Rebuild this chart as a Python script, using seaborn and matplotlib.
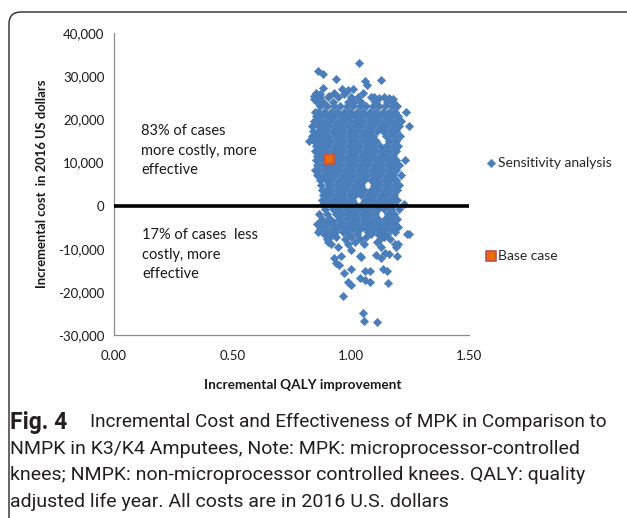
import numpy as np
import pandas as pd
import matplotlib
matplotlib.use("Agg")
import matplotlib.pyplot as plt
from matplotlib.patches import FancyBboxPatch
from matplotlib.ticker import FuncFormatter
import seaborn as sns

# Probabilistic sensitivity analysis cloud
# (incremental cost level -> incremental QALY values along that row)
core_cost = [25100, 24100, 23000, 21800, 20700, 19500, 18400, 17300, 16100, 15000,
             13900, 12700, 11600, 10500, 9300, 8200, 7100, 5900, 4800, 3700,
             2500, 1400, 300, -900, -2000, -3100, -3700, -4300, -4900, -5500,
             -6100, -6700, -7200, -7800, -8400, -9000, -9700]
core_qaly = [
    [0.870, 0.905, 0.945, 1.000, 1.030, 1.085, 1.140],
    [0.858, 0.884, 0.925, 0.990, 1.012, 1.045, 1.104, 1.152, 1.178],
    [0.871, 0.899, 0.928, 0.957, 0.983, 1.011, 1.038, 1.066, 1.093, 1.119, 1.147, 1.173, 1.196],
    [0.848, 0.862, 0.889, 0.915, 0.944, 0.970, 0.998, 1.025, 1.053, 1.080, 1.108, 1.135, 1.161, 1.188, 1.232],
    [0.853, 0.876, 0.904, 0.931, 0.958, 0.985, 1.012, 1.040, 1.067, 1.094, 1.121, 1.149, 1.176, 1.201],
    [0.845, 0.866, 0.892, 0.918, 0.946, 0.972, 0.999, 1.027, 1.054, 1.082, 1.109, 1.137, 1.163, 1.190, 1.212],
    [0.838, 0.860, 0.880, 0.906, 0.933, 0.960, 0.987, 1.014, 1.041, 1.068, 1.096, 1.123, 1.150, 1.177, 1.203, 1.246],
    [0.842, 0.866, 0.893, 0.920, 0.947, 0.973, 1.000, 1.028, 1.055, 1.083, 1.110, 1.137, 1.165, 1.192],
    [0.836, 0.855, 0.879, 0.906, 0.933, 0.960, 0.987, 1.014, 1.042, 1.069, 1.096, 1.150, 1.178, 1.207],
    [0.826, 0.846, 0.866, 0.893, 0.919, 0.946, 0.973, 1.001, 1.028, 1.055, 1.082, 1.109, 1.164, 1.191],
    [0.852, 0.880, 0.906, 0.933, 0.960, 0.987, 1.014, 1.041, 1.069, 1.096, 1.123, 1.150, 1.178, 1.200],
    [0.851, 0.868, 0.893, 0.920, 0.946, 0.973, 1.000, 1.027, 1.055, 1.082, 1.109, 1.137, 1.164, 1.190],
    [0.857, 0.880, 0.906, 0.933, 0.960, 0.988, 1.015, 1.042, 1.069, 1.096, 1.124, 1.151, 1.178],
    [0.852, 0.868, 0.894, 0.921, 0.947, 0.974, 1.001, 1.028, 1.056, 1.083, 1.110, 1.138, 1.165, 1.191, 1.228],
    [0.858, 0.881, 0.907, 0.934, 0.961, 0.988, 1.015, 1.042, 1.070, 1.097, 1.124, 1.152, 1.179, 1.204],
    [0.850, 0.868, 0.894, 0.921, 0.948, 0.975, 1.002, 1.029, 1.056, 1.084, 1.111, 1.138, 1.166, 1.193],
    [0.856, 0.882, 0.908, 0.935, 0.962, 0.989, 1.016, 1.043, 1.070, 1.098, 1.125, 1.152, 1.180, 1.214],
    [0.869, 0.895, 0.922, 0.949, 0.976, 1.003, 1.030, 1.057, 1.085, 1.112, 1.139, 1.167, 1.193],
    [0.873, 0.909, 0.936, 0.963, 0.990, 1.017, 1.044, 1.099, 1.126, 1.153, 1.181, 1.205],
    [0.878, 0.896, 0.923, 0.950, 0.977, 1.004, 1.031, 1.058, 1.086, 1.113, 1.140, 1.168, 1.194],
    [0.882, 0.910, 0.937, 0.964, 0.991, 1.018, 1.045, 1.072, 1.100, 1.127, 1.154, 1.182],
    [0.877, 0.897, 0.924, 0.951, 0.978, 1.005, 1.059, 1.087, 1.114, 1.141, 1.169, 1.196],
    [0.885, 0.911, 0.938, 0.965, 0.992, 1.019, 1.046, 1.073, 1.101, 1.128, 1.155, 1.183, 1.225],
    [0.891, 0.925, 0.952, 0.979, 1.006, 1.033, 1.060, 1.088, 1.115, 1.142, 1.170, 1.205],
    [0.866, 0.898, 0.938, 0.965, 0.993, 1.020, 1.047, 1.074, 1.102, 1.156, 1.184],
    [0.880, 0.912, 0.951, 0.979, 1.006, 1.033, 1.061, 1.088, 1.116, 1.143, 1.171, 1.196],
    [0.870, 0.896, 0.925, 0.990, 1.020, 1.062, 1.090, 1.103, 1.150, 1.178],
    [0.857, 0.902, 0.930, 0.965, 0.992, 1.019, 1.048, 1.075, 1.130, 1.157, 1.186],
    [0.884, 0.945, 0.974, 1.005, 1.033, 1.085, 1.115, 1.143, 1.199],
    [0.872, 0.917, 0.944, 0.980, 1.008, 1.040, 1.066, 1.100, 1.141, 1.170],
    [0.862, 0.900, 0.935, 0.968, 1.075, 1.128, 1.187],
    [0.888, 0.930, 0.995, 1.025, 1.088, 1.115, 1.152, 1.238, 1.248],
    [0.912, 0.940, 1.002, 1.065, 1.140],
    [0.899, 0.975, 1.041, 1.126, 1.167],
    [0.905, 1.020, 1.110],
    [0.918, 0.990, 1.058, 1.189, 1.200],
    [0.945, 1.130, 1.190],
]

# scattered points above the cloud
top_qaly = [1.034, 0.864, 0.881, 0.937, 1.130, 1.060, 1.070, 1.010, 0.990, 0.883,
            0.963, 0.852, 0.845, 0.930, 0.970, 1.050, 1.160, 1.180, 1.100, 0.910,
            1.120, 0.870, 0.845]
top_cost = [33000, 31200, 30500, 29400, 29100, 28800, 28000, 27000, 26800, 27200,
            27000, 26200, 25500, 26000, 25800, 26000, 25000, 24800, 25200, 25300,
            25000, 25800, 24800]

# scattered points in the lower tail
tail_qaly = [1.000, 0.958, 0.928, 0.940, 0.950, 0.970, 1.000, 1.040, 1.043, 1.107,
             1.127, 1.145, 1.161, 1.195, 1.135, 1.155, 1.060, 1.080, 1.040, 1.060,
             1.080, 1.158, 0.990, 1.000, 0.968, 1.050, 1.056, 1.110]
tail_cost = [-10300, -11800, -12200, -13200, -13800, -15700, -14600, -11700, -12000, -11400,
             -12200, -11000, -11200, -11700, -14800, -15200, -15100, -15100, -16800, -17200,
             -17800, -17900, -17800, -18500, -21000, -25000, -26700, -27000]

base_qaly = [0.91]
base_cost = [10800]

x_ticks = [0.0, 0.5, 1.0, 1.5]
y_ticks = [-30000, -20000, -10000, 0, 10000, 20000, 30000, 40000]

sens_q, sens_c = [], []
for c, row in zip(core_cost, core_qaly):
    sens_q += row
    sens_c += [c] * len(row)
sens_q += top_qaly + tail_qaly
sens_c += top_cost + tail_cost
sens = pd.DataFrame({"qaly": sens_q, "cost": sens_c})
base = pd.DataFrame({"qaly": base_qaly, "cost": base_cost})

sns.set_style("white")
plt.rcParams["font.family"] = ["Lato", "DejaVu Sans"]

W, H = 627, 518
fig = plt.figure(figsize=(W / 100, H / 100), dpi=100)
ax = fig.add_axes([114 / W, 1 - 335 / H, 355 / W, 302 / H])

blue = "#4A7EBB"
sns.scatterplot(data=sens, x="qaly", y="cost", marker="D", s=18, color=blue,
                edgecolor=blue, linewidth=0.4, label="Sensitivity analysis", ax=ax, zorder=2)
sns.scatterplot(data=base, x="qaly", y="cost", marker="s", s=50, color="#E46C0A",
                edgecolor="#C0504D", linewidth=1.2, label="Base case", ax=ax, zorder=4)
ax.axhline(0, color="black", lw=2.6, zorder=3)

ax.set_xlim(0, 1.5)
ax.set_ylim(-30000, 40000)
ax.set_xticks(x_ticks)
ax.set_yticks(y_ticks)
ax.xaxis.set_major_formatter(FuncFormatter(lambda v, p: f"{v:.2f}"))
ax.yaxis.set_major_formatter(FuncFormatter(lambda v, p: f"{v:,.0f}"))
for s in ["top", "right"]:
    ax.spines[s].set_visible(False)
for s in ["left", "bottom"]:
    ax.spines[s].set_color("#8c8c8c")
    ax.spines[s].set_linewidth(0.9)
ax.tick_params(axis="both", direction="out", length=3.5, width=0.8, color="#8c8c8c",
               labelsize=9.5, labelcolor="#1a1a1a")
ax.tick_params(axis="y", pad=3.5)
ax.tick_params(axis="x", pad=7)
ax.set_xlabel("")
ax.set_ylabel("")

fig.text(42 / W, 1 - 184 / H, "Incremental cost  in 2016 US dollars", rotation=90,
         fontsize=9.4, fontweight="bold", ha="center", va="center", color="#1a1a1a")
fig.text(303 / W, 1 - 385 / H, "Incremental QALY improvement", fontsize=9.8,
         fontweight="bold", ha="center", va="center", color="#1a1a1a")

ax.text(0.115, 18900, "83% of cases\nmore costly, more\neffective", fontsize=10.5,
        va="top", ha="left", linespacing=1.5, color="#1a1a1a")
ax.text(0.12, -5300, "17% of cases  less\ncostly, more\neffective", fontsize=10.5,
        va="top", ha="left", linespacing=1.5, color="#1a1a1a")

handles, labels = ax.get_legend_handles_labels()
ax.legend(handles, labels, loc="center left", bbox_to_anchor=(485 / W, 1 - 209.5 / H),
          bbox_transform=fig.transFigure, frameon=False, fontsize=10,
          labelspacing=5.85, handletextpad=0.15, handlelength=0.8, borderpad=0,
          borderaxespad=0)

# rounded frame around the figure panel
frame = FancyBboxPatch((9, -30), 700, H - 12 + 30, boxstyle="round,pad=0,rounding_size=12",
                       transform=None, fill=False, edgecolor="#3a3a3a", lw=1.1)
fig.patches.append(frame)

cap = ["NMPK in K3/K4 Amputees, Note: MPK: microprocessor-controlled",
       "knees; NMPK: non-microprocessor controlled knees. QALY: quality",
       "adjusted life year. All costs are in 2016 U.S. dollars"]
cap_font = ["Roboto", "DejaVu Sans"]
fig.text(10 / W, 1 - 422 / H, "Fig. 4", fontsize=16.5, fontweight="bold",
         family=cap_font, va="center", ha="left", color="#231f20")
fig.text(90 / W, 1 - 422 / H, "Incremental Cost and Effectiveness of MPK in Comparison to",
         fontsize=13.7, family=cap_font, va="center", ha="left", color="#231f20")
for i, line in enumerate(cap):
    fig.text(10 / W, 1 - (449 + 26.5 * i) / H, line, fontsize=14, family=cap_font,
             va="center", ha="left", color="#231f20")

fig.savefig("out.png", dpi=100)
